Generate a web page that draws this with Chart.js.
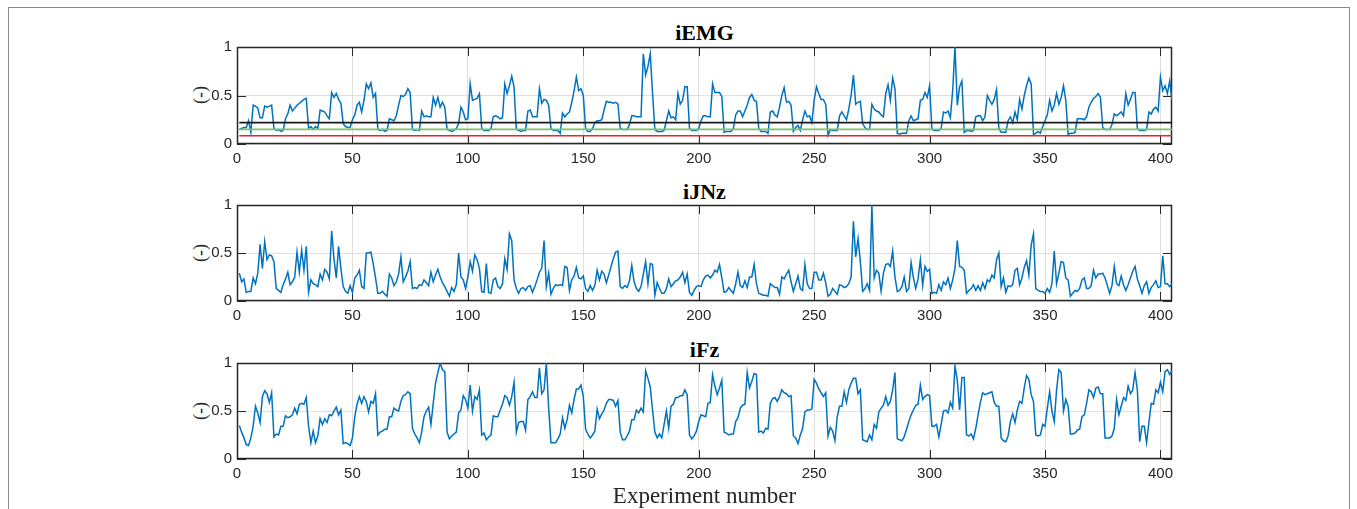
<!DOCTYPE html>
<html>
<head>
<meta charset="utf-8">
<script src="https://cdn.jsdelivr.net/npm/chart.js@4.4.1/dist/chart.umd.min.js"></script>
<style>
  body { margin: 0; background: #fff; width: 1357px; height: 509px; overflow: hidden; position: relative; }
  .frame { position: absolute; left: 8px; top: 7px; width: 1340px; height: 540px; border: 1px solid #8a8a8a; }
  canvas { position: absolute; left: 0; }
  .title { position: absolute; left: 237px; width: 935px; text-align: center; line-height: 22px;
           font: bold 22px "Liberation Serif", "Times New Roman", serif; color: #000; }
  .ylab { position: absolute; width: 40px; height: 20px; line-height: 20px; text-align: center;
          font: 18px "Liberation Serif", serif; color: #262626; transform: rotate(-90deg); }
  .xlab { position: absolute; left: 237px; width: 935px; top: 483px; text-align: center; line-height: 24px;
          font: 23px "Liberation Serif", "Times New Roman", serif; color: #262626; }
</style>
</head>
<body>
<div class="frame"></div>

<div class="title" style="top:20px">iEMG</div>
<div class="title" style="top:179px">iJNz</div>
<div class="title" style="top:337px">iFz</div>

<div class="ylab" style="left:180px;top:85px">(-)</div>
<div class="ylab" style="left:180px;top:243px">(-)</div>
<div class="ylab" style="left:180px;top:401px">(-)</div>

<canvas id="c1" width="1357" height="175" style="top:0px"></canvas>
<canvas id="c2" width="1357" height="174" style="top:158px"></canvas>
<canvas id="c3" width="1357" height="174" style="top:316px"></canvas>

<div class="xlab">Experiment number</div>

<script>
// tick labels
const xTicks = [0, 50, 100, 150, 200, 250, 300, 350, 400];
const yTicks = [0, 0.5, 1];

// threshold levels on the iEMG panel
const thrBlack = 0.22;
const thrGreen = 0.15;
const thrRed = 0.085;

// experiment 1..405, normalised values
const iEMG = [
  0.15,0.16,0.17,0.17,0.24,0.12,0.40,0.39,0.37,0.27,
  0.27,0.39,0.38,0.39,0.40,0.16,0.14,0.15,0.13,0.14,
  0.26,0.31,0.40,0.34,0.37,0.40,0.42,0.44,0.46,0.47,
  0.16,0.18,0.15,0.18,0.16,0.35,0.34,0.33,0.29,0.26,
  0.53,0.48,0.52,0.46,0.42,0.21,0.18,0.17,0.17,0.25,
  0.30,0.40,0.43,0.33,0.45,0.62,0.57,0.63,0.48,0.52,
  0.15,0.14,0.15,0.13,0.14,0.26,0.25,0.24,0.29,0.40,
  0.50,0.49,0.51,0.57,0.53,0.15,0.14,0.15,0.14,0.34,
  0.28,0.29,0.28,0.28,0.48,0.40,0.48,0.38,0.43,0.38,
  0.15,0.14,0.13,0.14,0.16,0.21,0.38,0.33,0.25,0.26,
  0.62,0.45,0.46,0.47,0.52,0.16,0.14,0.14,0.14,0.16,
  0.28,0.29,0.28,0.26,0.27,0.62,0.52,0.60,0.70,0.59,
  0.15,0.14,0.13,0.14,0.14,0.34,0.35,0.28,0.28,0.28,
  0.57,0.42,0.46,0.45,0.40,0.16,0.14,0.14,0.14,0.11,
  0.32,0.28,0.31,0.33,0.43,0.55,0.69,0.55,0.57,0.50,
  0.16,0.13,0.13,0.16,0.22,0.24,0.24,0.25,0.35,0.44,
  0.43,0.43,0.42,0.43,0.41,0.16,0.15,0.15,0.15,0.20,
  0.29,0.29,0.28,0.28,0.28,0.93,0.71,0.80,0.93,0.52,
  0.15,0.13,0.13,0.13,0.14,0.24,0.34,0.27,0.28,0.25,
  0.52,0.41,0.45,0.59,0.59,0.16,0.14,0.14,0.14,0.16,
  0.24,0.29,0.29,0.28,0.28,0.62,0.53,0.53,0.53,0.49,
  0.12,0.13,0.13,0.13,0.16,0.30,0.34,0.34,0.28,0.34,
  0.40,0.48,0.51,0.45,0.44,0.16,0.13,0.13,0.13,0.11,
  0.33,0.34,0.30,0.28,0.38,0.50,0.58,0.43,0.44,0.40,
  0.13,0.17,0.19,0.14,0.25,0.34,0.28,0.29,0.22,0.45,
  0.59,0.52,0.46,0.46,0.41,0.09,0.15,0.14,0.14,0.14,
  0.29,0.33,0.29,0.25,0.36,0.50,0.71,0.41,0.43,0.44,
  0.21,0.17,0.15,0.15,0.41,0.36,0.34,0.33,0.30,0.28,
  0.52,0.61,0.45,0.68,0.57,0.11,0.10,0.11,0.11,0.11,
  0.24,0.29,0.24,0.25,0.26,0.45,0.46,0.53,0.48,0.60,
  0.15,0.14,0.14,0.14,0.16,0.33,0.32,0.34,0.27,0.55,
  1.00,0.40,0.59,0.65,0.12,0.14,0.14,0.13,0.14,0.28,
  0.29,0.29,0.24,0.28,0.50,0.45,0.41,0.46,0.56,0.16,
  0.12,0.12,0.12,0.24,0.28,0.22,0.33,0.25,0.46,0.36,
  0.50,0.60,0.68,0.62,0.10,0.11,0.13,0.11,0.18,0.24,
  0.30,0.45,0.34,0.40,0.52,0.41,0.48,0.60,0.45,0.10,
  0.11,0.11,0.12,0.26,0.26,0.26,0.25,0.28,0.38,0.43,
  0.47,0.49,0.52,0.48,0.17,0.15,0.15,0.15,0.20,0.31,
  0.29,0.31,0.33,0.29,0.52,0.40,0.46,0.53,0.53,0.16,
  0.14,0.14,0.14,0.15,0.33,0.31,0.36,0.38,0.34,0.69,
  0.55,0.60,0.52,0.65,0.45
];

const iJNz = [
  0.29,0.20,0.23,0.09,0.10,0.10,0.24,0.18,0.29,0.59,
  0.34,0.62,0.43,0.48,0.47,0.41,0.13,0.11,0.09,0.17,
  0.23,0.30,0.17,0.20,0.25,0.51,0.30,0.53,0.32,0.57,
  0.09,0.22,0.18,0.17,0.15,0.28,0.22,0.33,0.30,0.23,
  0.73,0.44,0.24,0.57,0.34,0.15,0.10,0.08,0.16,0.09,
  0.24,0.27,0.32,0.15,0.13,0.50,0.50,0.51,0.39,0.24,
  0.08,0.08,0.10,0.07,0.05,0.28,0.24,0.16,0.20,0.28,
  0.46,0.20,0.25,0.31,0.41,0.13,0.14,0.13,0.17,0.16,
  0.22,0.19,0.16,0.30,0.20,0.27,0.33,0.25,0.19,0.15,
  0.10,0.05,0.14,0.10,0.17,0.50,0.25,0.22,0.13,0.25,
  0.41,0.31,0.48,0.43,0.34,0.10,0.09,0.39,0.09,0.08,
  0.22,0.24,0.15,0.13,0.18,0.44,0.33,0.70,0.63,0.22,
  0.13,0.08,0.13,0.14,0.11,0.15,0.16,0.09,0.15,0.22,
  0.30,0.34,0.63,0.15,0.29,0.07,0.13,0.17,0.16,0.17,
  0.16,0.36,0.35,0.11,0.22,0.26,0.35,0.24,0.23,0.26,
  0.13,0.10,0.16,0.11,0.16,0.32,0.22,0.31,0.28,0.19,
  0.27,0.36,0.44,0.51,0.52,0.15,0.13,0.16,0.14,0.21,
  0.37,0.20,0.13,0.10,0.15,0.28,0.41,0.18,0.39,0.38,
  0.06,0.19,0.13,0.08,0.08,0.13,0.23,0.15,0.18,0.21,
  0.22,0.25,0.30,0.19,0.28,0.09,0.06,0.11,0.15,0.16,
  0.15,0.22,0.26,0.27,0.24,0.27,0.32,0.30,0.38,0.24,
  0.09,0.10,0.14,0.11,0.08,0.18,0.30,0.16,0.14,0.21,
  0.14,0.25,0.25,0.38,0.18,0.08,0.07,0.06,0.06,0.05,
  0.18,0.16,0.14,0.14,0.07,0.25,0.23,0.28,0.32,0.20,
  0.10,0.18,0.26,0.13,0.11,0.38,0.18,0.13,0.13,0.30,
  0.30,0.22,0.22,0.29,0.19,0.05,0.07,0.13,0.10,0.07,
  0.17,0.16,0.14,0.15,0.18,0.25,0.83,0.46,0.65,0.41,
  0.10,0.13,0.18,0.11,1.00,0.24,0.32,0.29,0.10,0.29,
  0.38,0.39,0.36,0.52,0.25,0.10,0.11,0.15,0.25,0.10,
  0.13,0.40,0.24,0.13,0.23,0.43,0.16,0.36,0.31,0.33,
  0.08,0.09,0.08,0.17,0.11,0.20,0.17,0.24,0.13,0.22,
  0.34,0.63,0.36,0.35,0.32,0.08,0.11,0.13,0.17,0.11,
  0.16,0.11,0.19,0.13,0.22,0.20,0.27,0.24,0.43,0.50,
  0.15,0.24,0.09,0.16,0.15,0.17,0.32,0.34,0.17,0.24,
  0.35,0.42,0.27,0.58,0.70,0.13,0.11,0.10,0.10,0.08,
  0.13,0.09,0.18,0.52,0.18,0.29,0.41,0.40,0.24,0.22,
  0.05,0.08,0.11,0.10,0.13,0.22,0.24,0.13,0.13,0.16,
  0.32,0.24,0.28,0.28,0.29,0.24,0.16,0.08,0.16,0.36,
  0.18,0.16,0.26,0.17,0.11,0.17,0.24,0.31,0.36,0.23,
  0.16,0.08,0.16,0.20,0.08,0.14,0.17,0.21,0.14,0.15,
  0.47,0.18,0.18,0.15,0.18
];

const iFz = [
  0.35,0.28,0.22,0.15,0.14,0.22,0.34,0.55,0.48,0.38,
  0.65,0.71,0.68,0.59,0.69,0.23,0.26,0.25,0.34,0.34,
  0.45,0.43,0.44,0.46,0.53,0.47,0.57,0.58,0.57,0.64,
  0.34,0.17,0.29,0.17,0.24,0.42,0.36,0.42,0.38,0.46,
  0.45,0.50,0.54,0.46,0.51,0.16,0.17,0.16,0.14,0.22,
  0.44,0.57,0.65,0.58,0.65,0.60,0.49,0.60,0.58,0.68,
  0.25,0.28,0.29,0.31,0.31,0.44,0.44,0.53,0.51,0.50,
  0.60,0.66,0.67,0.70,0.68,0.32,0.26,0.22,0.17,0.28,
  0.44,0.50,0.54,0.36,0.58,0.79,0.90,1.00,0.93,0.91,
  0.28,0.21,0.24,0.26,0.28,0.48,0.51,0.66,0.62,0.53,
  0.77,0.50,0.65,0.62,0.72,0.25,0.27,0.20,0.23,0.25,
  0.45,0.44,0.44,0.51,0.57,0.66,0.64,0.56,0.65,0.80,
  0.28,0.38,0.39,0.39,0.30,0.62,0.65,0.70,0.64,0.64,
  0.95,0.68,0.72,1.00,0.53,0.17,0.17,0.17,0.21,0.26,
  0.43,0.32,0.41,0.56,0.48,0.62,0.73,0.73,0.77,0.65,
  0.31,0.26,0.22,0.25,0.29,0.52,0.42,0.47,0.51,0.58,
  0.62,0.62,0.61,0.55,0.61,0.28,0.20,0.20,0.24,0.29,
  0.41,0.41,0.51,0.48,0.53,0.49,0.92,0.84,0.75,0.51,
  0.28,0.22,0.26,0.22,0.36,0.50,0.32,0.55,0.57,0.64,
  0.64,0.66,0.66,0.72,0.67,0.25,0.21,0.24,0.29,0.39,
  0.46,0.45,0.44,0.58,0.59,0.88,0.76,0.67,0.74,0.82,
  0.28,0.27,0.25,0.26,0.26,0.39,0.43,0.53,0.56,0.57,
  0.90,0.74,0.81,0.89,0.88,0.28,0.29,0.27,0.32,0.31,
  0.58,0.63,0.64,0.60,0.65,0.72,0.69,0.68,0.65,0.66,
  0.24,0.22,0.16,0.25,0.32,0.49,0.51,0.51,0.52,0.83,
  0.79,0.73,0.69,0.65,0.69,0.24,0.33,0.29,0.19,0.44,
  0.55,0.55,0.70,0.59,0.72,0.79,0.84,0.84,0.68,0.72,
  0.20,0.19,0.18,0.25,0.20,0.36,0.32,0.49,0.53,0.56,
  0.65,0.56,0.60,0.72,0.90,0.21,0.20,0.19,0.23,0.31,
  0.39,0.46,0.51,0.56,0.57,0.77,0.62,0.65,0.67,0.66,
  0.34,0.34,0.36,0.23,0.36,0.50,0.51,0.48,0.59,0.53,
  0.97,0.82,0.51,0.85,0.85,0.25,0.24,0.26,0.21,0.32,
  0.46,0.59,0.69,0.67,0.68,0.69,0.70,0.59,0.55,0.55,
  0.22,0.19,0.18,0.24,0.39,0.47,0.38,0.51,0.60,0.58,
  0.74,0.87,0.83,0.67,0.60,0.25,0.24,0.25,0.36,0.34,
  0.53,0.70,0.50,0.39,0.72,0.93,0.90,0.50,0.62,0.55,
  0.26,0.26,0.27,0.30,0.31,0.44,0.46,0.58,0.72,0.70,
  0.64,0.74,0.75,0.68,0.68,0.22,0.22,0.22,0.24,0.32,
  0.62,0.46,0.55,0.64,0.61,0.76,0.68,0.72,0.90,0.72,
  0.18,0.34,0.34,0.17,0.38,0.58,0.57,0.72,0.69,0.80,
  0.70,0.91,0.93,0.88,0.92
];

const xMax = 405;
const axisColor = '#262626';
const lineBlue = '#0072bd';

// MATLAB-style box with inward ticks on all four sides
const boxTicks = {
  id: 'boxTicks',
  beforeDatasetsDraw(chart) {
    const { ctx, chartArea: a, scales: { x, y } } = chart;
    ctx.save();
    ctx.strokeStyle = axisColor;
    ctx.lineWidth = 1;
    ctx.beginPath();
    xTicks.forEach(v => {
      const px = Math.round(x.getPixelForValue(v)) + 0.5;
      ctx.moveTo(px, a.top); ctx.lineTo(px, a.top + 9);
      ctx.moveTo(px, a.bottom); ctx.lineTo(px, a.bottom - 9);
    });
    yTicks.forEach(v => {
      const py = Math.round(y.getPixelForValue(v)) + 0.5;
      ctx.moveTo(a.left, py); ctx.lineTo(a.left + 9, py);
      ctx.moveTo(a.right, py); ctx.lineTo(a.right - 9, py);
    });
    ctx.stroke();
    ctx.lineWidth = 1.5;
    ctx.strokeRect(a.left + 0.5, a.top + 0.5, a.width - 1, a.height - 1);
    ctx.restore();
  }
};

function toPoints(vals) {
  return vals.map((v, i) => ({ x: i + 1, y: v }));
}

function hLine(level, color) {
  return {
    data: [{ x: 1, y: level }, { x: xMax, y: level }],
    borderColor: color, borderWidth: 1.7, pointRadius: 0, order: 1
  };
}

function makePanel(id, vals, extra) {
  const tickFont = { family: '"Liberation Sans", Arial, sans-serif', size: 15 };
  return new Chart(document.getElementById(id), {
    type: 'line',
    data: {
      datasets: [{
        data: toPoints(vals),
        borderColor: lineBlue,
        borderWidth: 1.5,
        pointRadius: 0,
        tension: 0,
        order: 2
      }].concat(extra)
    },
    options: {
      responsive: false,
      animation: false,
      devicePixelRatio: 1,
      layout: { padding: { left: 0, right: 185, top: 47, bottom: 0 } },
      plugins: { legend: { display: false }, tooltip: { enabled: false } },
      scales: {
        x: {
          type: 'linear', min: 0, max: xMax,
          afterBuildTicks: s => { s.ticks = xTicks.map(v => ({ value: v })); },
          afterFit: s => { s.height = 31; },
          grid: { color: '#dfdfdf', drawTicks: false },
          border: { display: false },
          ticks: { font: tickFont, color: axisColor, padding: 6, maxRotation: 0, autoSkip: false,
                   callback: v => String(v) }
        },
        y: {
          min: 0, max: 1,
          afterBuildTicks: s => { s.ticks = yTicks.map(v => ({ value: v })); },
          afterFit: s => { s.width = 237; },
          grid: { color: '#dfdfdf', drawTicks: false },
          border: { display: false },
          ticks: { font: tickFont, color: axisColor, padding: 5, callback: v => String(v) }
        }
      }
    },
    plugins: [boxTicks]
  });
}

makePanel('c1', iEMG, [hLine(thrBlack, '#1a1a1a'), hLine(thrGreen, '#7dc35f'), hLine(thrRed, '#e8242b')]);
makePanel('c2', iJNz, []);
makePanel('c3', iFz, []);
</script>
</body>
</html>
